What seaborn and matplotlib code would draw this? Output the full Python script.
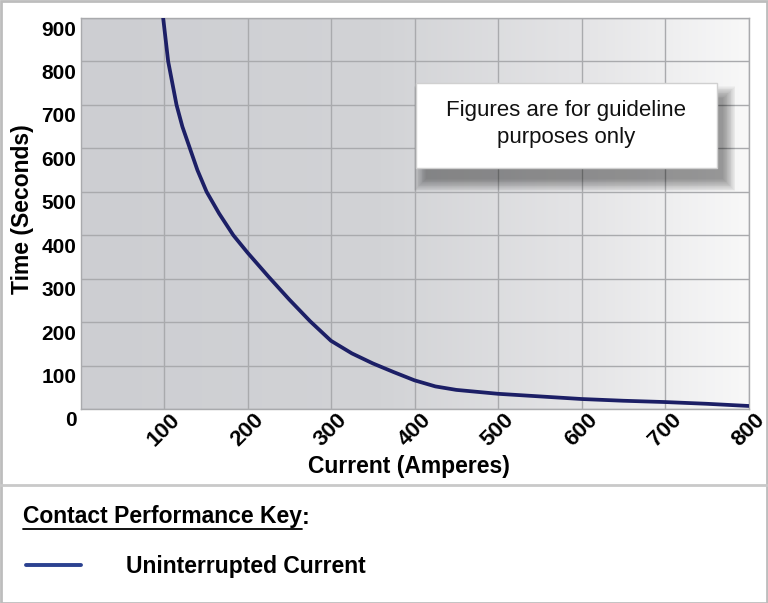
import numpy as np
import pandas as pd
import seaborn as sns
import matplotlib.pyplot as plt
from matplotlib.colors import LinearSegmentedColormap
from matplotlib.patches import Rectangle
from matplotlib.lines import Line2D
from matplotlib.transforms import ScaledTranslation

# values
current = [99, 102, 105, 110, 115, 122, 131, 140, 151, 166, 183, 200, 225, 250, 275,
           300, 325, 350, 375, 400, 425, 450, 500, 550, 600, 650, 700, 750, 800]
seconds = [900, 850, 800, 750, 700, 650, 600, 550, 500, 450, 400, 360, 305, 252, 202,
           157, 128, 105, 85, 66, 52, 44, 35, 29, 23, 19, 16, 12, 7]
x_ticks = [100, 200, 300, 400, 500, 600, 700, 800]
y_ticks = [0, 100, 200, 300, 400, 500, 600, 700, 800, 900]

df = pd.DataFrame({"Current": current, "Time": seconds})

sns.set_style("white")
plt.rcParams['font.family'] = ['Liberation Sans', 'DejaVu Sans']
plt.rcParams['text.color'] = 'black'
plt.rcParams['axes.labelcolor'] = 'black'
plt.rcParams['xtick.color'] = 'black'
plt.rcParams['ytick.color'] = 'black'

W, H = 768, 603
fig = plt.figure(figsize=[W / 100, H / 100], dpi=100)
ax = fig.add_axes([80.5 / W, 1 - 409 / H, 668 / W, 391 / H])

# background gradient (grey on the left, fading to white on the right)
grad = LinearSegmentedColormap.from_list(
    "bg", [(0.0, "#cdced2"), (0.45, "#d2d3d6"), (0.75, "#e4e4e6"), (1.0, "#f8f8f8")])
ax.imshow(np.linspace(0, 1, 256)[None, :], cmap=grad, aspect="auto",
          extent=[0, 800, 0, 900], zorder=0)

sns.lineplot(data=df, x="Current", y="Time", ax=ax, color="#1c1f66",
             linewidth=2.7, zorder=5)

ax.set_xlim(0, 800)
ax.set_ylim(0, 900)
ax.set_xticks(x_ticks)
ax.set_yticks(y_ticks)
ax.grid(True, color="#a9aaad", linewidth=1, zorder=1)
ax.set_axisbelow(False)
for s in ax.spines.values():
    s.set_color("#a9aaad")
    s.set_linewidth(1)
ax.tick_params(length=0)
ax.tick_params(axis="y", pad=3)
ax.tick_params(axis="x", pad=0)

ax.set_xticklabels([str(v) for v in x_ticks], rotation=45, ha="center",
                   fontsize=16, fontweight="bold")
ax.set_yticklabels([str(v) for v in y_ticks], fontsize=15, fontweight="bold")
off = ScaledTranslation(0, -10 / 100, fig.dpi_scale_trans)
for lab in ax.get_yticklabels():
    lab.set_transform(lab.get_transform() + off)

ax.set_xlabel("Current (Amperes)", fontsize=16.5, fontweight="bold")
ax.xaxis.set_label_coords((409 - 80.5) / 668, (409 - 466) / 391)
ax.xaxis.label.set_va("center")
ax.set_ylabel("Time (Seconds)", fontsize=16.5, fontweight="bold")
ax.yaxis.set_label_coords((23 - 80.5) / 668, (409 - 209) / 391)
ax.yaxis.label.set_va("center")

# note box with soft shadow
bx, by, bw, bh = 0.5015, 0.616, 0.452, 0.217
px, py = 1 / 668, 1 / 391
for i in range(16):
    g = 12 - i * 0.8
    ax.add_patch(Rectangle((bx + 10 * px - g * px, by - 11 * py - g * py),
                           bw + 2 * g * px - 4 * px, bh + 2 * g * py - 4 * py,
                           transform=ax.transAxes, facecolor="black",
                           edgecolor="none", alpha=0.028, zorder=6))
ax.add_patch(Rectangle((bx, by), bw, bh, transform=ax.transAxes,
                       facecolor="white", edgecolor="#d0d0d0", linewidth=1, zorder=7))
ax.text(bx + bw / 2, by + bh / 2 + 0.005, "Figures are for guideline\npurposes only",
        transform=ax.transAxes, ha="center", va="center", fontsize=16,
        linespacing=1.35, color="#111111", zorder=8)

# separator and outer frame
fig.add_artist(Line2D([0, 1], [1 - 485 / H] * 2, transform=fig.transFigure,
                      color="#c9c9c9", linewidth=2))
fig.add_artist(Rectangle((0.5 / W, 0.5 / H), 1 - 1.5 / W, 1 - 1.5 / H,
                         transform=fig.transFigure, facecolor="none",
                         edgecolor="#bdbdbd", linewidth=2))

# key
key = fig.text(23 / W, 1 - 517 / H, "Contact Performance Key", fontsize=16.5,
               fontweight="bold", va="center", ha="left")
fig.canvas.draw()
bb = key.get_window_extent(fig.canvas.get_renderer())
fig.add_artist(Line2D([bb.x0 / W, bb.x1 / W], [(bb.y0 - 0.5) / H] * 2,
                      transform=fig.transFigure, color="black", linewidth=1.3))
fig.text(bb.x1 / W, 1 - 517 / H, ":", fontsize=16.5, fontweight="bold",
         va="center", ha="left")

handle = Line2D([], [], color="#2b4190", linewidth=2.8)
fig.legend([handle], ["Uninterrupted Current"], loc="center left",
           bbox_to_anchor=(26 / W, 1 - 567 / H), frameon=False,
           prop={"size": 16.5, "weight": "bold"}, handlelength=2.4,
           handletextpad=1.95, borderpad=0, borderaxespad=0)

fig.savefig("out.png", dpi=100)
